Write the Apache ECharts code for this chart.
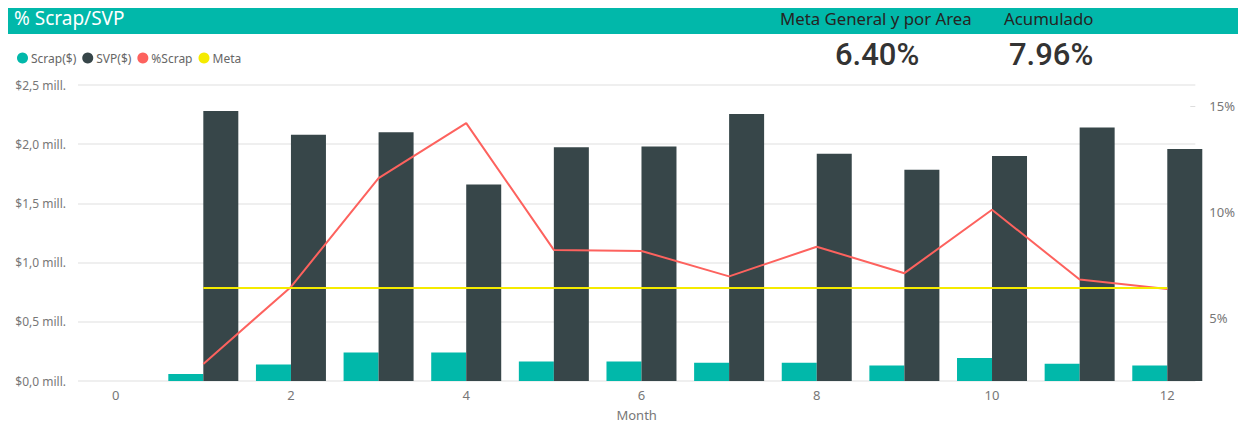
<!DOCTYPE html>
<html>
<head>
<meta charset="utf-8">
<title>% Scrap/SVP</title>
<script src="https://cdn.jsdelivr.net/npm/echarts@6/dist/echarts.min.js"></script>
<style>
  html, body { margin: 0; padding: 0; background: #fff; }
  #chart { width: 1238px; height: 429px; }
</style>
</head>
<body>
<div id="chart"></div>
<script>
// datos por mes (valores en millones de $ y en %)
var months = [1, 2, 3, 4, 5, 6, 7, 8, 9, 10, 11, 12];
var scrap = [0.06, 0.14, 0.24, 0.24, 0.165, 0.165, 0.155, 0.155, 0.13, 0.195, 0.145, 0.13];
var svp = [2.28, 2.08, 2.10, 1.66, 1.975, 1.98, 2.255, 1.92, 1.785, 1.90, 2.14, 1.96];
var pctScrap = [2.8, 6.45, 11.6, 14.2, 8.2, 8.15, 6.95, 8.35, 7.1, 10.1, 6.8, 6.35];
var meta = [6.4, 6.4, 6.4, 6.4, 6.4, 6.4, 6.4, 6.4, 6.4, 6.4, 6.4, 6.4];
var xTicks = [0, 2, 4, 6, 8, 10, 12];
var pctTicks = [5, 10, 15];
var kpiMeta = '6.40%';
var kpiAcum = '7.96%';

function pairs(vals) {
    return months.map(function (m, i) { return [m, vals[i]]; });
}

var font = '"Noto Sans", "Open Sans", sans-serif';
var chart = echarts.init(document.getElementById('chart'), null, { renderer: 'svg' });

chart.setOption({
    animation: false,
    textStyle: { fontFamily: font },
    color: ['#01B8AA', '#374649', '#FD625E', '#F5EB00'],
    graphic: [
        { type: 'rect', left: 8, top: 8, shape: { width: 1230, height: 26 }, style: { fill: '#01B8AA' } },
        { type: 'text', left: 14, top: 8, style: { text: '% Scrap/SVP', fill: '#fff', font: '19px ' + font } },
        { type: 'text', left: 780, top: 10, style: { text: 'Meta General y por Area', fill: '#252423', font: '16.8px ' + font } },
        { type: 'text', left: 1004, top: 10, style: { text: 'Acumulado', fill: '#252423', font: '16.8px ' + font } },
        { type: 'text', left: 835, top: 39, style: { text: kpiMeta, fill: '#333', font: '500 31px Roboto, sans-serif' } },
        { type: 'text', left: 1009, top: 39, style: { text: kpiAcum, fill: '#333', font: '500 31px Roboto, sans-serif' } }
    ],
    legend: {
        left: 12, top: 47,
        icon: 'circle', itemWidth: 11, itemHeight: 11, itemGap: 6,
        textStyle: { color: '#666', fontSize: 12, padding: [0, 0, 0, -2] },
        data: ['Scrap($)', 'SVP($)', '%Scrap', 'Meta']
    },
    grid: { left: 78, right: 34, top: 85, bottom: 48 },
    xAxis: {
        type: 'value', min: -0.43, max: 12.32,
        name: 'Month', nameLocation: 'middle', nameGap: 27,
        nameTextStyle: { color: '#777', fontSize: 13 },
        axisLine: { show: false }, axisTick: { show: false }, splitLine: { show: false },
        axisLabel: { customValues: xTicks, color: '#777', fontSize: 13, margin: 7 }
    },
    yAxis: [{
        type: 'value', min: 0, max: 2.5, interval: 0.5,
        axisLine: { show: false }, axisTick: { show: false },
        splitLine: { lineStyle: { color: '#EAEAEA', width: 1.5 } },
        axisLabel: {
            color: '#777', fontSize: 12, margin: 12,
            formatter: function (v) { return '$' + v.toFixed(1).replace('.', ',') + ' mill.'; }
        }
    }, {
        type: 'value', min: 2, max: 16, position: 'right',
        axisLine: { show: false }, splitLine: { show: false },
        axisTick: { show: true, inside: true, length: 5, customValues: pctTicks, lineStyle: { color: '#DDD' } },
        axisLabel: { customValues: pctTicks, color: '#777', fontSize: 13, margin: 14,
            formatter: function (v) { return v + '%'; } }
    }],
    series: [
        { name: 'Scrap($)', type: 'bar', data: pairs(scrap), barWidth: 35, barGap: '0%' },
        { name: 'SVP($)', type: 'bar', data: pairs(svp), barWidth: 35, barGap: '0%' },
        { name: '%Scrap', type: 'line', yAxisIndex: 1, data: pairs(pctScrap), showSymbol: false,
          lineStyle: { width: 2, color: '#FD625E' } },
        { name: 'Meta', type: 'line', yAxisIndex: 1, data: pairs(meta), showSymbol: false,
          lineStyle: { width: 2, color: '#F5EB00' } }
    ]
});
</script>
</body>
</html>
